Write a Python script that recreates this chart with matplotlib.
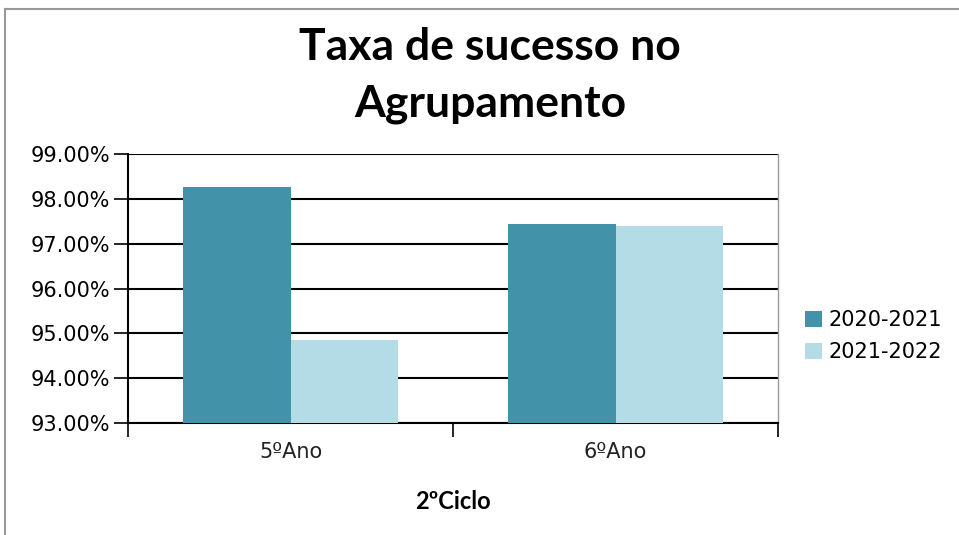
import matplotlib.pyplot as plt
import numpy as np
from matplotlib.lines import Line2D
from matplotlib.ticker import FuncFormatter, FixedLocator

categories = ["5ºAno", "6ºAno"]
series = ["2020-2021", "2021-2022"]
v2021 = [98.26, 97.45]
v2022 = [94.86, 97.39]
colors = ["#4292A9", "#B4DCE6"]

fig = plt.figure(figsize=(9.59, 5.35), dpi=100)
ax = fig.add_axes([0.1335, 0.2093, 0.6778, 0.5028])

x = np.arange(len(categories))
w = 0.332
ax.bar(x - w / 2, v2021, w, color=colors[0], label=series[0], zorder=3)
ax.bar(x + w / 2, v2022, w, color=colors[1], label=series[1], zorder=3)

ax.set_ylim(93, 99)
ax.set_xlim(-0.5, 1.5)
ax.set_yticks(np.arange(93, 99.01, 1))
ax.yaxis.set_major_formatter(FuncFormatter(lambda v, p: "%.2f%%" % v))
ax.yaxis.grid(True, color="black", lw=1.5, zorder=1)
ax.tick_params(axis="y", direction="out", length=10, width=1.2, labelsize=15, pad=3)

ax.set_xticks(x)
ax.set_xticklabels(categories)
ax.tick_params(axis="x", which="major", length=0, labelsize=15, pad=14, labelcolor="#222222")
ax.xaxis.set_minor_locator(FixedLocator([-0.5, 0.5, 1.5]))
ax.tick_params(axis="x", which="minor", direction="out", length=10, width=1.2)

for s in ["left", "bottom"]:
    ax.spines[s].set_linewidth(1.5)
ax.spines["top"].set_visible(False)
ax.spines["right"].set_color("#999999")
ax.spines["right"].set_linewidth(1)

ax.set_xlabel("2ºCiclo", family="Lato", fontweight="bold", fontsize=17, labelpad=20)

fig.text(0.511, 0.769, "Taxa de sucesso no\nAgrupamento", ha="center", va="bottom",
         family="Lato", fontweight="bold", fontsize=32, linespacing=1.5)

ax.legend(loc="center left", bbox_to_anchor=(1.013, 0.323), frameon=False, fontsize=15,
          handlelength=0.8, handleheight=0.8, handletextpad=0.3, labelspacing=0.6)

# outer frame
fig.add_artist(Line2D([5 / 959, 1], [1 - 9 / 535, 1 - 9 / 535], color="#999999", lw=1.5))
fig.add_artist(Line2D([5 / 959, 5 / 959], [0, 1 - 9 / 535], color="#999999", lw=1.5))

plt.savefig("out.png", dpi=100)
